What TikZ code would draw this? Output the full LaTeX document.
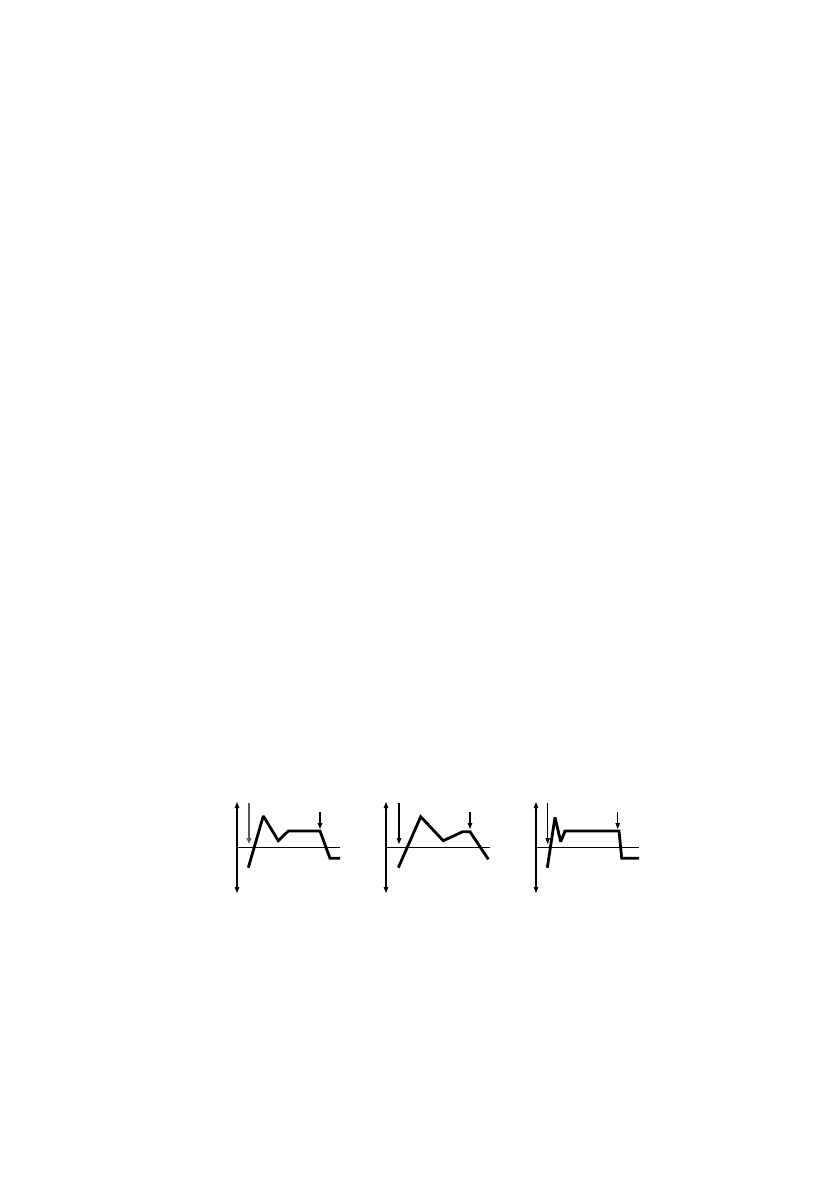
\documentclass[tikz,border=0pt]{standalone}
\usetikzlibrary{arrows.meta}
\tikzset{
  axis/.style={line width=1.1pt},
  levels/.style={line width=1.1pt, {Triangle[length=6pt,width=4.5pt]}-{Triangle[length=6pt,width=4.5pt]}},
  keyon/.style={line width=1.1pt, -{Triangle[length=6pt,width=4.5pt]}},
  keyoff/.style={line width=1.1pt, -{Triangle[length=6pt,width=4.5pt]}},
  bold/.style={line width=1.7pt},
  env/.style={line width=2.8pt, line join=miter, miter limit=2}
}
\begin{document}
\begin{tikzpicture}[x=1pt, y=-1pt]
  \useasboundingbox (0,0) rectangle (840,1192);
  % first envelope
  \draw[levels] (237,802) -- (237,893);
  \draw[axis] (237,847.5) -- (340,847.5);
  \draw[keyon, bold, black!65] (249,803) -- (249,844);
  \draw[keyoff, bold] (320,812) -- (320,829);
  \draw[env] (248.3,867.7) -- (263.3,816) -- (278.3,840.7) -- (288.3,831)
    -- (320,831) -- (330,858.3) -- (340,858.3);
  % second envelope
  \draw[levels] (386,802) -- (386,893);
  \draw[axis] (386,847.5) -- (490,847.5);
  \draw[keyon] (399,803) -- (399,844);
  \draw[keyoff] (470,812) -- (470,829);
  \draw[env] (398.3,867.7) -- (420.7,816.7) -- (443.3,840.7) -- (462.7,831.7)
    -- (470,831.7) -- (488.3,859.3);
  % third envelope
  \draw[levels] (536,802) -- (536,893);
  \draw[axis] (536,847.5) -- (639,847.5);
  \draw[keyon] (547.7,803) -- (547.7,844);
  \draw[keyoff] (617.7,812) -- (617.7,829);
  \draw[env] (547.3,867.7) -- (555,817.3) -- (560.7,841.7) -- (565,831)
    -- (619,831) -- (621.7,858.3) -- (639,858.3);
\end{tikzpicture}
\end{document}
